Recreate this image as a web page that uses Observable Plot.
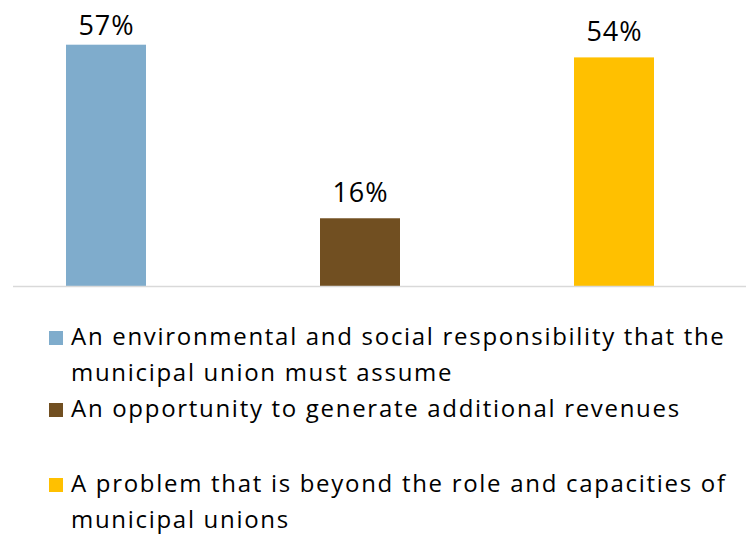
<!DOCTYPE html>
<html>
<head>
<meta charset="utf-8">
<script src="https://cdn.jsdelivr.net/npm/d3@7"></script>
<script src="https://cdn.jsdelivr.net/npm/@observablehq/plot@0.6"></script>
<style>
  body { margin: 0; background: #fff; font-family: "Open Sans", Roboto, sans-serif; }
  #chart svg { display: block; }
  #legend { padding: 18px 0 0 49px; width: 694px; }
  .item { display: flex; align-items: flex-start; font-size: 24px; line-height: 36px; letter-spacing: 1.7px; color: #000; }
  .swatch { flex: none; width: 14px; height: 14px; margin: 13px 8px 0 0; }
  .gap { margin-bottom: 39px; }
</style>
</head>
<body>
<div id="chart"></div>
<div id="legend"></div>
<script>
const categories = [
  "An environmental and social responsibility that the municipal union must assume",
  "An opportunity to generate additional revenues",
  "A problem that is beyond the role and capacities of municipal unions"
];
const values = [57, 16, 54];
const colors = ["#7FACCC", "#714F21", "#FFC000"];

const yMax = 60;
const data = categories.map((c, i) => ({category: c, value: values[i], label: `${values[i]}%`}));
// label sits a little above its bar, but is kept inside the plot area (as in the original)
const labelY = d => Math.min(d.value + 4, yMax - 0.7);

const chart = Plot.plot({
  width: 746,
  height: 300,
  marginLeft: 13,
  marginRight: 0,
  marginTop: 32,
  marginBottom: 14,
  x: {domain: categories, paddingInner: 0.686, paddingOuter: 0.283, align: 0.368, axis: null},
  y: {domain: [0, yMax], axis: null},
  color: {domain: categories, range: colors},
  style: {fontFamily: "'Open Sans', Roboto, sans-serif", background: "#fff", letterSpacing: "1px"},
  marks: [
    Plot.barY(data, {x: "category", y: "value", fill: "category"}),
    Plot.ruleY([0], {stroke: "#d9d9d9", strokeWidth: 1.5}),
    Plot.text(data, {x: "category", y: labelY, text: "label", lineAnchor: "bottom", fontSize: 27, fill: "#000"})
  ]
});
document.getElementById("chart").appendChild(chart);

const legend = d3.select("#legend");
categories.forEach((c, i) => {
  const item = legend.append("div").attr("class", "item" + (i === 1 ? " gap" : ""));
  item.append("div").attr("class", "swatch").style("background", colors[i]);
  item.append("div").attr("class", "text").text(c);
});
</script>
</body>
</html>
